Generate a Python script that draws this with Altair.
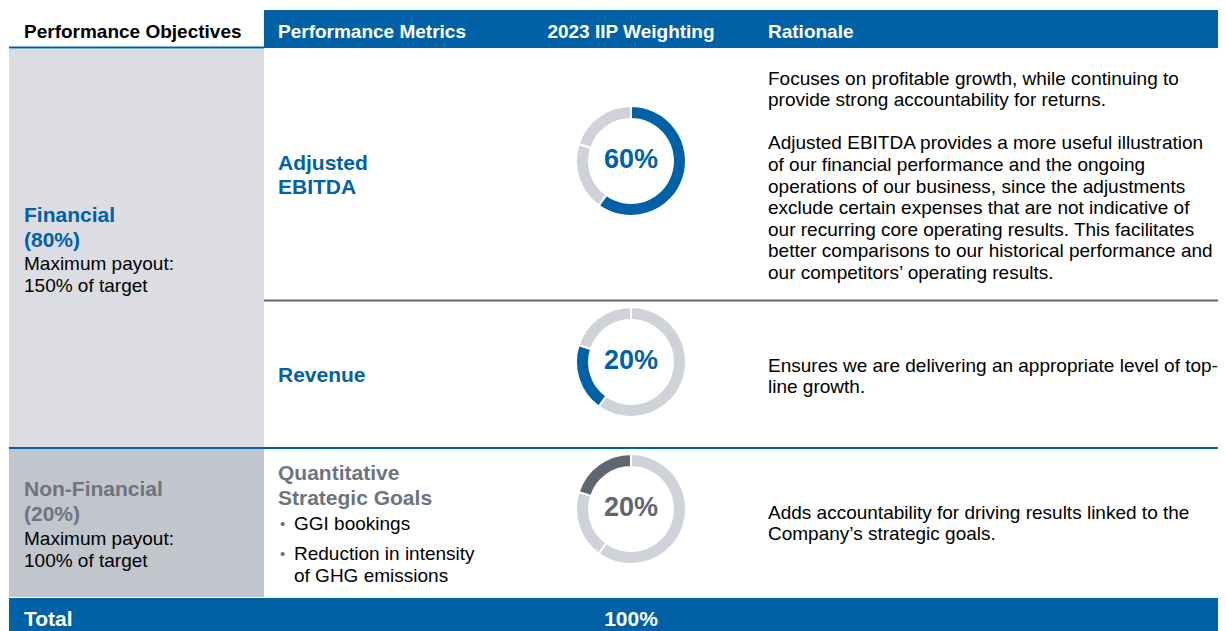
import altair as alt
import pandas as pd

# ---------------- data ----------------
metrics = ["Adjusted EBITDA", "Revenue", "Quantitative Strategic Goals"]
weights = [60, 20, 20]
weight_labels = ["60%", "20%", "20%"]
total_label = "100%"

headers = ["Performance Objectives", "Performance Metrics", "2023 IIP Weighting", "Rationale"]

objective_titles = [["Financial", "(80%)"], ["Non-Financial", "(20%)"]]
objective_payouts = [["Maximum payout:", "150% of target"], ["Maximum payout:", "100% of target"]]

metric_titles = [["Adjusted", "EBITDA"], ["Revenue"], ["Quantitative", "Strategic Goals"]]
goal_bullets = [["GGI bookings"], ["Reduction in intensity", "of GHG emissions"]]

rationale_lines = [
    ["Focuses on profitable growth, while continuing to",
     "provide strong accountability for returns.",
     "",
     "Adjusted EBITDA provides a more useful illustration",
     "of our financial performance and the ongoing",
     "operations of our business, since the adjustments",
     "exclude certain expenses that are not indicative of",
     "our recurring core operating results. This facilitates",
     "better comparisons to our historical performance and",
     "our competitors\u2019 operating results."],
    ["Ensures we are delivering an appropriate level of top-",
     "line growth."],
    ["Adds accountability for driving results linked to the",
     "Company\u2019s strategic goals."],
]

# ---------------- styling / layout ----------------
BLUE = "#0061A6"
GRAYTXT = "#6C757F"
DARK = "#5E6771"
RING = "#CFD2D8"
CELL1 = "#DCDDE2"
CELL2 = "#C1C5CC"
FONT = "Liberation Sans"

W, H = 1210, 623
xs = alt.Scale(domain=[8, 8 + W], nice=False, zero=False)
ys = alt.Scale(domain=[8, 8 + H], nice=False, zero=False, reverse=True)

COL_X = [24, 278, 631, 768]
donut_cy = [161, 362, 509]
highlight = [BLUE, BLUE, DARK]
label_color = [BLUE, BLUE, DARK]

# rectangles (cells / bands)
rects = pd.DataFrame([
    dict(x=264, x2=1226, y=10, y2=48, c=BLUE),
    dict(x=9, x2=264, y=49, y2=447, c=CELL1),
    dict(x=9, x2=264, y=449, y2=597, c=CELL2),
    dict(x=9, x2=1226, y=598, y2=631, c=BLUE),
])
rules = pd.DataFrame([
    dict(x=9, x2=264, y=47.5, c=BLUE),
    dict(x=264, x2=1226, y=300.5, c=DARK),
    dict(x=9, x2=1226, y=448, c=BLUE),
])

# donut segments from weights
rows = []
for i, m in enumerate(metrics):
    start = 0
    for j, w in enumerate(weights):
        rows.append(dict(donut=m, seg=metrics[j], start=start, end=start + w,
                         cx=COL_X[2], cy=donut_cy[i],
                         c=highlight[i] if i == j else RING))
        start += w
donuts = pd.DataFrame(rows)

# texts
bold_left, bold_center, reg_left = [], [], []
bold_left.append(dict(t=headers[0], x=COL_X[0], y=30, c="#000000", s=19))
bold_left.append(dict(t=headers[1], x=COL_X[1], y=30, c="white", s=19))
bold_center.append(dict(t=headers[2], x=COL_X[2], y=30, c="white", s=19))
bold_left.append(dict(t=headers[3], x=COL_X[3], y=30, c="white", s=19))

obj_y = [[214, 239, 262, 284], [488, 513, 537, 559]]
obj_c = [BLUE, GRAYTXT]
for k in range(2):
    for n, t in enumerate(objective_titles[k]):
        bold_left.append(dict(t=t, x=COL_X[0], y=obj_y[k][n], c=obj_c[k], s=21))
    for n, t in enumerate(objective_payouts[k]):
        reg_left.append(dict(t=t, x=COL_X[0], y=obj_y[k][2 + n], c="#000000", s=19))

met_y = [[162, 186], [374], [472, 497]]
met_c = [BLUE, BLUE, GRAYTXT]
for k in range(3):
    for n, t in enumerate(metric_titles[k]):
        bold_left.append(dict(t=t, x=COL_X[1], y=met_y[k][n], c=met_c[k], s=21))

bul_y = [[522], [552, 574]]
for k in range(2):
    reg_left.append(dict(t="\u2022", x=280, y=bul_y[k][0], c=GRAYTXT, s=15))
    for n, t in enumerate(goal_bullets[k]):
        reg_left.append(dict(t=t, x=294, y=bul_y[k][n], c="#000000", s=19))

rat_y0 = [77, 364, 511]
for k in range(3):
    for n, t in enumerate(rationale_lines[k]):
        if t:
            reg_left.append(dict(t=t, x=COL_X[3], y=rat_y0[k] + n * 21.6, c="#000000", s=19))

for i in range(3):
    bold_center.append(dict(t=weight_labels[i], x=COL_X[2], y=donut_cy[i] - 3, c=label_color[i], s=27))

bold_left.append(dict(t="Total", x=COL_X[0], y=618, c="white", s=21))
bold_center.append(dict(t=total_label, x=COL_X[2], y=618, c="white", s=21))

# ---------------- chart ----------------
rect_layer = alt.Chart(rects).mark_rect(clip=True).encode(
    x=alt.X("x:Q", scale=xs, axis=None), x2="x2:Q",
    y=alt.Y("y:Q", scale=ys, axis=None), y2="y2:Q",
    color=alt.Color("c:N", scale=None),
)
rule_layer = alt.Chart(rules).mark_rule(strokeWidth=2, clip=True).encode(
    x=alt.X("x:Q", scale=xs, axis=None), x2="x2:Q",
    y=alt.Y("y:Q", scale=ys, axis=None),
    color=alt.Color("c:N", scale=None),
)
arc_layer = alt.Chart(donuts).mark_arc(radius=55, radius2=42, stroke="white", strokeWidth=2).encode(
    x=alt.X("cx:Q", scale=xs, axis=None),
    y=alt.Y("cy:Q", scale=ys, axis=None),
    theta=alt.Theta("start:Q", scale=alt.Scale(domain=[0, 100], range=[0, 6.283185307])),
    theta2="end:Q",
    color=alt.Color("c:N", scale=None),
)


def text_layer(rows, weight, align):
    return alt.Chart(pd.DataFrame(rows)).mark_text(
        font=FONT, fontWeight=weight, align=align, baseline="middle", dy=1.5
    ).encode(
        x=alt.X("x:Q", scale=xs, axis=None),
        y=alt.Y("y:Q", scale=ys, axis=None),
        text="t:N",
        color=alt.Color("c:N", scale=None),
        size=alt.Size("s:Q", scale=None),
    )


chart = alt.layer(
    rect_layer, rule_layer, arc_layer,
    text_layer(bold_left, "bold", "left"),
    text_layer(bold_center, "bold", "center"),
    text_layer(reg_left, "normal", "left"),
).properties(
    width=W, height=H, padding=0,
    autosize=alt.AutoSizeParams(type="none"),
    background="white",
).configure_view(stroke=None)

chart.save("out.html", embed_options={"renderer": "svg", "actions": False})
